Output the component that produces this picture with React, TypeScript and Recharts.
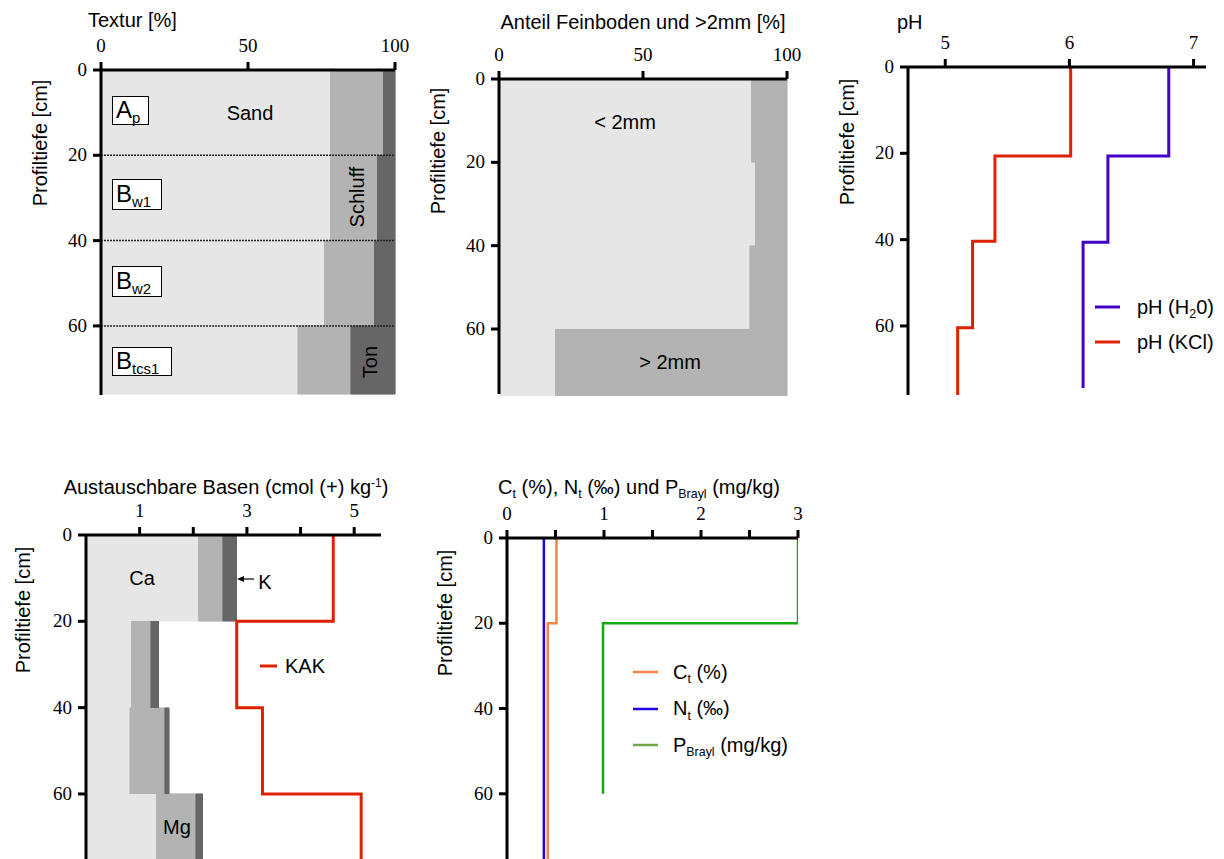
import React from "react";
import { ComposedChart, XAxis, YAxis, ReferenceArea, ReferenceLine, Line, Legend } from "recharts";

const SANS = '"Liberation Sans", Arial, sans-serif';
const SERIF = '"Liberation Serif", "Times New Roman", serif';

const LIGHT = "#e6e6e6";
const MID = "#b3b3b3";
const DARK = "#666666";

// horizons (cm)
const layerTop = [0, 20, 40, 60];
const layerBottom = [20, 40, 60, 76];
const depthTicks = [0, 20, 40, 60];

// Textur [%]
const sandPct = [78, 78, 76, 67];
const siltPct = [18, 16, 17, 18];
const clayPct = [4, 6, 7, 15];

// Feinboden / Skelett [%]
const fineEarthPct = [87.5, 89, 87, 19.5];
const gravelPct = [12.5, 11, 13, 80.5];

// pH
const phH2O = [6.8, 6.31, 6.11];
const phH2OBounds = [0, 20.6, 40.6, 74.4];
const phKCl = [6.01, 5.4, 5.22, 5.1];
const phKClBounds = [0, 20.6, 40.4, 60.4, 76];

// Austauschbare Basen (cmol(+)/kg)
const caVals = [2.09, 0.84, 0.82, 1.31];
const mgVals = [0.46, 0.37, 0.65, 0.74];
const kVals = [0.26, 0.15, 0.08, 0.13];
const kakVals = [4.61, 2.81, 3.29, 5.13];
const kakBounds = [0, 20, 40, 60, 76];

// Ct, Nt, P
const ctVals = [0.51, 0.42];
const ctBounds = [0, 20, 76];
const ntVals = [0.38];
const ntBounds = [0, 76];
const pVals = [3.0, 0.99];
const pBounds = [0, 20, 60];

const stepRows = (vals: number[], bounds: number[]) =>
  vals.flatMap((v, i) => [
    { depth: bounds[i], v },
    { depth: bounds[i + 1], v },
  ]);

type Rect = { x0: number; y0: number; x1: number; y1: number };

const axisStroke = { stroke: "#000", strokeWidth: 3 };

const XTick = ({ x, y, payload, fmt }: any) => (
  <text x={x} y={y} textAnchor="middle" fontFamily={SERIF} fontSize={19} fill="#000" style={{ fontFamily: SERIF }}>
    {fmt ? fmt(payload.value) : payload.value}
  </text>
);

const YTick = ({ x, y, payload }: any) => (
  <text x={x} y={y} dy={6} textAnchor="end" fontFamily={SERIF} fontSize={19} fill="#000" style={{ fontFamily: SERIF }}>
    {payload.value}
  </text>
);

const Panel = ({ r, xDomain, xTicks, yMax, fmt, children }: any) => (
  <div style={{ position: "absolute", left: r.x0 - 100, top: r.y0 - 80 }}>
    <ComposedChart
      width={r.x1 - r.x0 + 120}
      height={r.y1 - r.y0 + 85}
      layout="vertical"
      margin={{ top: 50, left: 40, right: 20, bottom: 5 }}
    >
      <XAxis
        type="number"
        orientation="top"
        height={30}
        domain={xDomain}
        ticks={xTicks}
        interval={0}
        allowDataOverflow
        tickSize={8}
        tickMargin={10}
        axisLine={axisStroke}
        tickLine={axisStroke}
        tick={(p: any) => <XTick {...p} fmt={fmt} />}
      />
      <YAxis
        type="number"
        dataKey="depth"
        width={60}
        domain={[0, yMax]}
        ticks={depthTicks}
        interval={0}
        allowDataOverflow
        tickSize={8}
        tickMargin={6}
        axisLine={axisStroke}
        tickLine={axisStroke}
        tick={(p: any) => <YTick {...p} />}
      />
      {children}
    </ComposedChart>
  </div>
);

const Sub = ({ children }: any) => (
  <span style={{ fontSize: "0.62em", position: "relative", top: "0.35em" }}>{children}</span>
);
const Sup = ({ children }: any) => (
  <span style={{ fontSize: "0.6em", position: "relative", top: "-0.55em" }}>{children}</span>
);

const Txt = ({ x, y, children, rotate, anchor = "middle", size = 20 }: any) => (
  <div
    style={{
      position: "absolute",
      left: x,
      top: y,
      fontSize: size,
      whiteSpace: "nowrap",
      lineHeight: 1,
      transform: `translate(${anchor === "start" ? "0" : "-50%"}, -50%)${rotate ? " rotate(-90deg)" : ""}`,
    }}
  >
    {children}
  </div>
);

const HorizonBox = ({ x, y, w, h, main, sub }: any) => (
  <div
    style={{
      position: "absolute",
      left: x,
      top: y,
      width: w,
      height: h,
      boxSizing: "border-box",
      border: "1px solid #000",
      background: "#fff",
      fontSize: 24,
      lineHeight: `${h - 4}px`,
      paddingLeft: 3,
    }}
  >
    {main}
    <Sub>{sub}</Sub>
  </div>
);

const legendContent =
  (labels: Record<string, React.ReactNode>, swatch: number, gap: number, rowH: number, width: number, colors: Record<string, string> = {}) =>
  (props: any) => (
    <div>
      {(props.payload || []).map((e: any) => (
        <div key={e.value} style={{ display: "flex", alignItems: "center", height: rowH, fontFamily: SANS, fontSize: 20 }}>
          <svg width={swatch} height={6} style={{ display: "block" }}>
            <line x1={0} y1={3} x2={swatch} y2={3} stroke={colors[e.value] || e.color} strokeWidth={width} />
          </svg>
          <span style={{ marginLeft: gap, whiteSpace: "nowrap", color: "#000" }}>{labels[e.value]}</span>
        </div>
      ))}
    </div>
  );

const areas = (tops: number[], bottoms: number[], from: number[], to: number[], fill: string, key: string) =>
  tops.map((t, i) => (
    <ReferenceArea
      key={key + i}
      x1={from[i]}
      x2={to[i]}
      y1={t}
      y2={bottoms[i]}
      fill={fill}
      fillOpacity={1}
      stroke={fill}
      strokeWidth={0.6}
      shapeRendering="crispEdges"
      ifOverflow="visible"
    />
  ));

const cum = (...arrs: number[][]) => arrs[0].map((_, i) => arrs.reduce((s, a) => s + a[i], 0));
const zeros = layerTop.map(() => 0);

const r1: Rect = { x0: 101, y0: 70, x1: 395, y1: 395 };
const r2: Rect = { x0: 499, y0: 79, x1: 787, y1: 394 };
const r3: Rect = { x0: 908, y0: 67, x1: 1206, y1: 395 };
const r4: Rect = { x0: 86, y0: 535, x1: 381, y1: 863 };
const r5: Rect = { x0: 507, y0: 538, x1: 798, y1: 862 };

const oddOnly = (v: number) => (v % 2 === 1 ? String(v) : "");
const intOnly = (v: number) => (Number.isInteger(v) ? String(v) : "");

export default function App() {
  const sandEnd = sandPct;
  const siltEnd = cum(sandPct, siltPct);
  const clayEnd = cum(sandPct, siltPct, clayPct);
  const fineEnd = fineEarthPct;
  const gravelEnd = cum(fineEarthPct, gravelPct);
  const caEnd = caVals;
  const mgEnd = cum(caVals, mgVals);
  const kEnd = cum(caVals, mgVals, kVals);

  return (
    <div style={{ position: "absolute", left: 0, top: 0, width: 1224, height: 859, overflow: "hidden", fontFamily: SANS, color: "#000", background: "#fff" }}>
      {/* Panel 1: Textur */}
      <Panel r={r1} xDomain={[0, 100]} xTicks={[0, 50, 100]} yMax={76.2}>
        {areas(layerTop, layerBottom, zeros, sandEnd, LIGHT, "sand")}
        {areas(layerTop, layerBottom, sandEnd, siltEnd, MID, "silt")}
        {areas(layerTop, layerBottom, siltEnd, clayEnd, DARK, "clay")}
        {layerTop.slice(1).map((d) => (
          <ReferenceLine key={d} y={d} stroke="#222" strokeWidth={1.5} strokeDasharray="2 1" />
        ))}
      </Panel>

      {/* Panel 2: Feinboden */}
      <Panel r={r2} xDomain={[0, 100]} xTicks={[0, 50, 100]} yMax={75.6}>
        {areas(layerTop, layerBottom, zeros, fineEnd, LIGHT, "fine")}
        {areas(layerTop, layerBottom, fineEnd, gravelEnd, MID, "gravel")}
      </Panel>

      {/* Panel 3: pH */}
      <Panel r={r3} xDomain={[4.7, 7.1]} xTicks={[5, 6, 7]} yMax={76}>
        <Line data={stepRows(phH2O, phH2OBounds)} dataKey="v" name="h2o" stroke="#4400cc" strokeWidth={3} dot={false} activeDot={false} isAnimationActive={false} />
        <Line data={stepRows(phKCl, phKClBounds)} dataKey="v" name="kcl" stroke="#dd2200" strokeWidth={3} dot={false} activeDot={false} isAnimationActive={false} />
        <Legend
          layout="vertical"
          align="center"
          verticalAlign="middle"
          wrapperStyle={{ left: 1095 - (r3.x0 - 100), top: 289.5 - (r3.y0 - 80), width: "auto", height: "auto" }}
          content={legendContent(
            {
              h2o: (
                <>
                  pH (H<Sub>2</Sub>0)
                </>
              ),
              kcl: "pH (KCl)",
            },
            25,
            17,
            35,
            3
          )}
        />
      </Panel>

      {/* Panel 4: Austauschbare Basen */}
      <Panel r={r4} xDomain={[0, 5.5]} xTicks={[1, 2, 3, 4, 5]} yMax={76} fmt={oddOnly}>
        {areas(layerTop, layerBottom, zeros, caEnd, LIGHT, "ca")}
        {areas(layerTop, layerBottom, caEnd, mgEnd, MID, "mg")}
        {areas(layerTop, layerBottom, mgEnd, kEnd, DARK, "k")}
        <Line data={stepRows(kakVals, kakBounds)} dataKey="v" name="kak" stroke="#dd2200" strokeWidth={3} dot={false} activeDot={false} isAnimationActive={false} />
        <Legend
          layout="vertical"
          align="center"
          verticalAlign="middle"
          wrapperStyle={{ left: 260 - (r4.x0 - 100), top: 666 - 17.5 - (r4.y0 - 80), width: "auto", height: "auto" }}
          content={legendContent({ kak: "KAK" }, 17, 8, 35, 3)}
        />
      </Panel>

      {/* Panel 5: Ct, Nt, P */}
      <Panel r={r5} xDomain={[0, 3]} xTicks={[0, 0.5, 1, 1.5, 2, 2.5, 3]} yMax={76} fmt={intOnly}>
        <Line data={stepRows(ctVals, ctBounds)} dataKey="v" name="ct" stroke="#ee8844" strokeWidth={2.5} dot={false} activeDot={false} isAnimationActive={false} />
        <Line data={stepRows(ntVals, ntBounds)} dataKey="v" name="nt" stroke="#2200ee" strokeWidth={2.5} dot={false} activeDot={false} isAnimationActive={false} />
        <Line data={stepRows(pVals, pBounds)} dataKey="v" name="p" stroke="#11aa11" strokeWidth={2.5} dot={false} activeDot={false} isAnimationActive={false} />
        <Legend
          layout="vertical"
          align="center"
          verticalAlign="middle"
          wrapperStyle={{ left: 633 - (r5.x0 - 100), top: 672 - 18 - (r5.y0 - 80), width: "auto", height: "auto" }}
          content={legendContent(
            {
              ct: (
                <>
                  C<Sub>t</Sub> (%)
                </>
              ),
              nt: (
                <>
                  N<Sub>t</Sub> (‰)
                </>
              ),
              p: (
                <>
                  P<Sub>Brayl</Sub> (mg/kg)
                </>
              ),
            },
            25,
            15,
            36.5,
            2.5,
            { p: "#70a848" }
          )}
        />
      </Panel>

      {/* titles */}
      <Txt x={88} y={20} anchor="start">Textur [%]</Txt>
      <Txt x={643} y={22}>Anteil Feinboden und &gt;2mm [%]</Txt>
      <Txt x={897} y={22} anchor="start">pH</Txt>
      <Txt x={226} y={487}>
        Austauschbare Basen (cmol (+) kg<Sup>-1</Sup>)
      </Txt>
      <Txt x={639} y={487}>
        C<Sub>t</Sub> (%), N<Sub>t</Sub> (‰) und P<Sub>Brayl</Sub> (mg/kg)
      </Txt>

      {/* depth axis labels */}
      <Txt x={40} y={143} rotate>Profiltiefe [cm]</Txt>
      <Txt x={438} y={151} rotate>Profiltiefe [cm]</Txt>
      <Txt x={847} y={142} rotate>Profiltiefe [cm]</Txt>
      <Txt x={23} y={610} rotate>Profiltiefe [cm]</Txt>
      <Txt x={445} y={613} rotate>Profiltiefe [cm]</Txt>

      {/* in-plot annotations */}
      <Txt x={250} y={113}>Sand</Txt>
      <Txt x={357} y={197} rotate>Schluff</Txt>
      <Txt x={370} y={362} rotate>Ton</Txt>
      <HorizonBox x={112} y={96} w={37} h={29} main="A" sub="p" />
      <HorizonBox x={112} y={179} w={50} h={31} main="B" sub="w1" />
      <HorizonBox x={112} y={266} w={50} h={31} main="B" sub="w2" />
      <HorizonBox x={112} y={347} w={60} h={29} main="B" sub="tcs1" />

      <Txt x={625} y={122}>&lt; 2mm</Txt>
      <Txt x={670} y={362}>&gt; 2mm</Txt>

      <Txt x={142} y={578}>Ca</Txt>
      <Txt x={265} y={582}>K</Txt>
      <Txt x={177} y={827}>Mg</Txt>
      <svg style={{ position: "absolute", left: 236, top: 573 }} width={20} height={12}>
        <line x1={5} y1={6} x2={18} y2={6} stroke="#000" strokeWidth={1.2} />
        <polygon points="1,6 8,3 8,9" fill="#000" />
      </svg>
    </div>
  );
}
